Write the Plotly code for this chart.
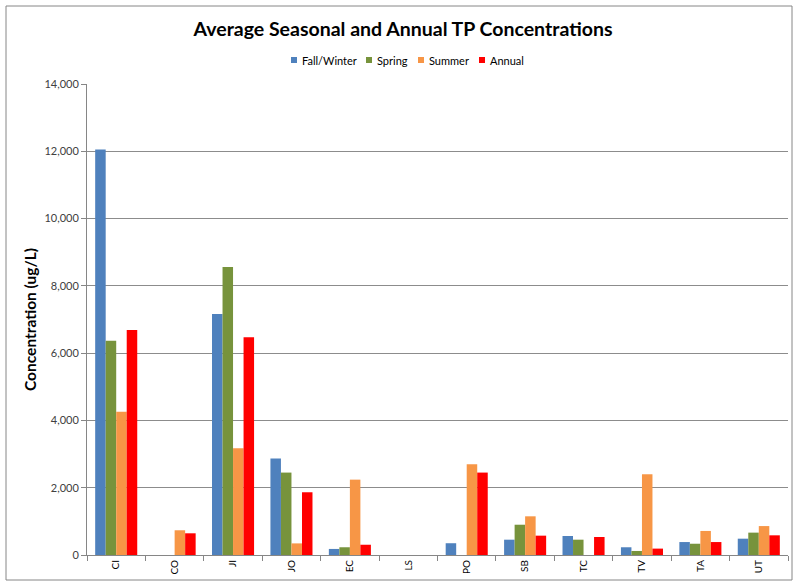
import plotly.graph_objects as go

sites = ["CI", "CO", "JI", "JO", "EC", "LS", "PO", "SB", "TC", "TV", "TA", "UT"]
fall_winter = [12050, None, 7160, 2870, 180, None, 350, 455, 565, 230, 385, 485]
spring = [6370, None, 8560, 2450, 230, None, None, 900, 455, 120, 335, 665]
summer = [4260, 735, 3170, 345, 2240, None, 2695, 1150, None, 2400, 715, 860]
annual = [6690, 645, 6470, 1865, 305, None, 2450, 575, 535, 190, 385, 585]

series_names = ["Fall/Winter", "Spring", "Summer", "Annual"]
series_vals = [fall_winter, spring, summer, annual]
series_colors = ["#4F81BD", "#77933C", "#F79646", "#FF0000"]

fig = go.Figure()
for name, vals, col in zip(series_names, series_vals, series_colors):
    fig.add_trace(go.Bar(x=sites, y=vals, name=name, marker_color=col,
                         marker_line_width=0, showlegend=False))

W, H = 795, 582
L, R, T, B = 87, 7, 84, 27
pw, ph = W - L - R, H - T - B

def px(x):
    return (x - L) / pw

def py(y):
    return (H - B - y) / ph

# manual legend (positions in pixels)
legend_box_x = [291, 366, 418, 479]
legend_y = 60
shapes = [dict(type="rect", xref="paper", yref="paper",
               x0=px(6), x1=px(792), y0=py(580), y1=py(6),
               line=dict(color="#868686", width=1), fillcolor="rgba(0,0,0,0)",
               layer="below")]
annotations = []
for bx, name, col in zip(legend_box_x, series_names, series_colors):
    shapes.append(dict(type="rect", xref="paper", yref="paper",
                       x0=px(bx), x1=px(bx + 6), y0=py(legend_y + 3), y1=py(legend_y - 3),
                       line=dict(width=0), fillcolor=col))
    annotations.append(dict(xref="paper", yref="paper", x=px(bx + 9), y=py(legend_y),
                            xanchor="left", yanchor="middle", showarrow=False,
                            text=name, font=dict(size=11, color="black")))

fig.update_layout(
    width=W, height=H,
    margin=dict(l=L, r=R, t=T, b=B, autoexpand=False),
    paper_bgcolor="white", plot_bgcolor="white",
    barmode="group", bargap=0.28, bargroupgap=0,
    font=dict(family="Lato, Liberation Sans, sans-serif", color="#404040", size=11),
    title=dict(text="<b>Average Seasonal and Annual TP Concentrations</b>",
               x=px(403), xref="paper", xanchor="center",
               y=1 - 29 / H, yref="container", yanchor="middle",
               font=dict(family="Lato, Liberation Sans, sans-serif", size=19.5, color="black")),
    showlegend=False,
    xaxis=dict(type="category", showline=True, linecolor="#868686", linewidth=1,
               ticks="outside", tickson="boundaries", ticklen=5, tickcolor="#868686",
               tickangle=-90, tickfont=dict(size=10, color="black"),
               showgrid=False, automargin=False),
    yaxis=dict(range=[0, 14000], dtick=2000, tickformat=",d",
               showline=True, linecolor="#868686", linewidth=1,
               ticks="outside", ticklen=5, tickcolor="#868686",
               showgrid=True, gridcolor="#8C8C8C", gridwidth=1,
               zeroline=False, tickfont=dict(size=11, color="#404040"),
               title=dict(text="<b>Concentration (ug/L)</b>", standoff=3,
                          font=dict(size=15.5, color="black")),
               automargin=False),
    shapes=shapes,
    annotations=annotations,
)

fig.write_html("out.html", config={"displayModeBar": False},
               post_script="document.body.style.margin='0px';document.body.style.padding='0px';")
